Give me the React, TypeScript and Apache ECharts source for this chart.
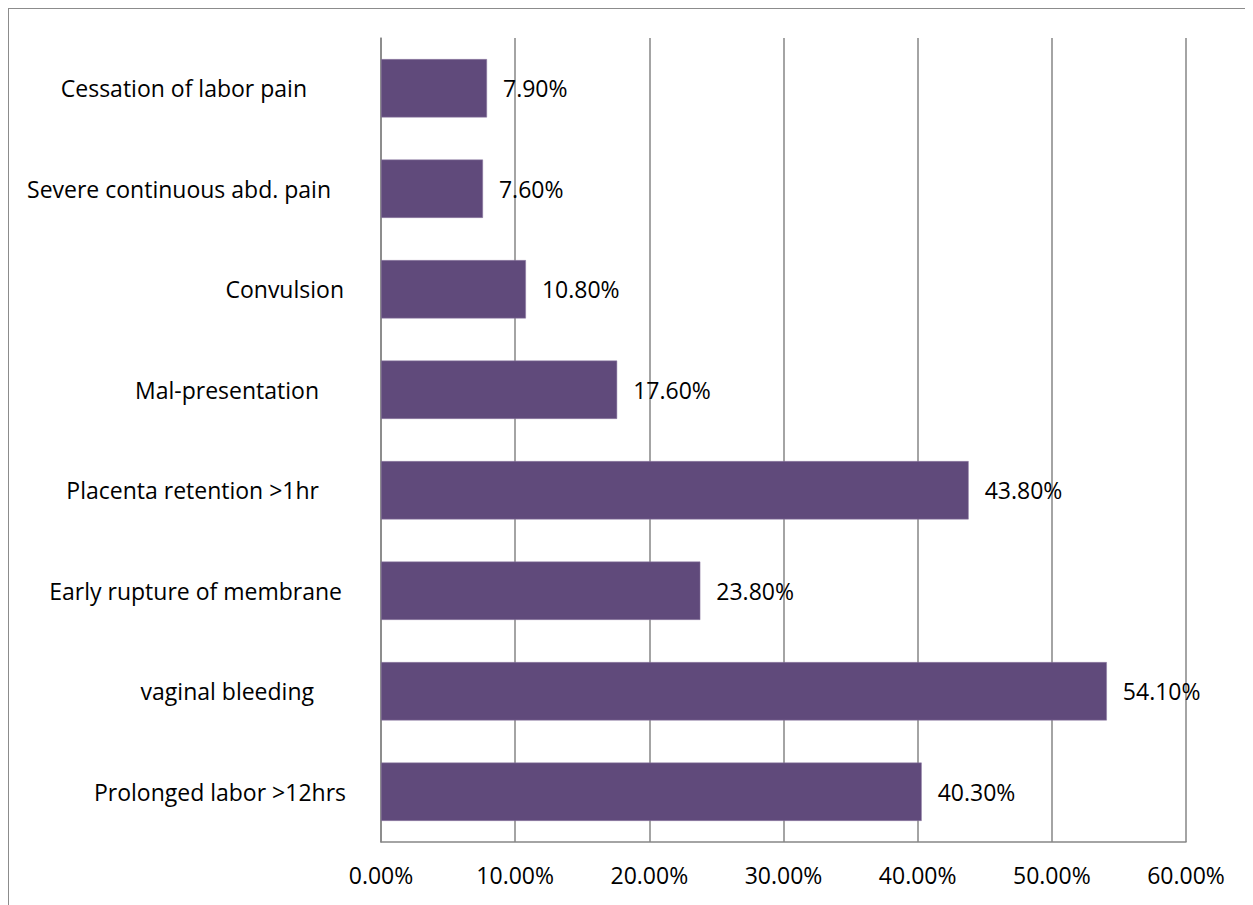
import React, { useEffect, useRef } from "react";
import * as echarts from "echarts";

const categories = [
  "Prolonged labor >12hrs",
  "vaginal bleeding",
  "Early rupture of membrane",
  "Placenta retention >1hr",
  "Mal-presentation",
  "Convulsion",
  "Severe continuous abd. pain",
  "Cessation of labor pain",
];
const values = [40.3, 54.1, 23.8, 43.8, 17.6, 10.8, 7.6, 7.9];
const labelPad = [12, 44, 16, 39, 39, 14, 27, 51];
const xTicks = [0, 10, 20, 30, 40, 50, 60];

const FONT = "'Open Sans', 'Noto Sans', sans-serif";
const FS = 23;

export default function App() {
  const ref = useRef<HTMLDivElement>(null);
  useEffect(() => {
    if (!ref.current) return;
    const chart = echarts.init(ref.current, null, { renderer: "svg" });
    const rich: Record<string, any> = {};
    labelPad.forEach((p, i) => {
      rich["a" + i] = {
        fontFamily: FONT,
        fontSize: FS,
        color: "#000",
        padding: [0, p, 0, 0],
      };
    });
    chart.setOption({
      animation: false,
      grid: { left: 372, right: 67, top: 29, bottom: 63 },
      xAxis: {
        type: "value",
        min: xTicks[0],
        max: xTicks[xTicks.length - 1],
        interval: 10,
        axisLine: { show: true, lineStyle: { color: "#868686", width: 1.5 } },
        axisTick: { show: false },
        splitLine: { show: true, lineStyle: { color: "#868686", width: 1.5 } },
        axisLabel: {
          formatter: (v: number) => v.toFixed(2) + "%",
          fontFamily: FONT,
          fontSize: FS,
          color: "#000",
          margin: 21,
        },
      },
      yAxis: {
        type: "category",
        data: categories,
        axisLine: { show: true, lineStyle: { color: "#868686", width: 1.5 } },
        axisTick: { show: false },
        axisLabel: {
          margin: 23,
          formatter: (v: string, i: number) => `{a${i}|${v}}`,
          rich,
        },
      },
      series: [
        {
          type: "bar",
          data: values,
          barCategoryGap: "42%",
          itemStyle: { color: "#604a7b", borderColor: "#8e7ca5", borderWidth: 0.5 },
          label: {
            show: true,
            position: "right",
            distance: 16,
            formatter: (p: any) => p.value.toFixed(2) + "%",
            fontFamily: FONT,
            fontSize: FS,
            color: "#000",
          },
        },
      ],
    });
    return () => chart.dispose();
  }, []);
  return (
    <div
      ref={ref}
      style={{
        width: 1245,
        height: 897,
        borderLeft: "1px solid #8c8c8c",
        borderTop: "1px solid #8c8c8c",
        boxSizing: "border-box",
      }}
    />
  );
}
